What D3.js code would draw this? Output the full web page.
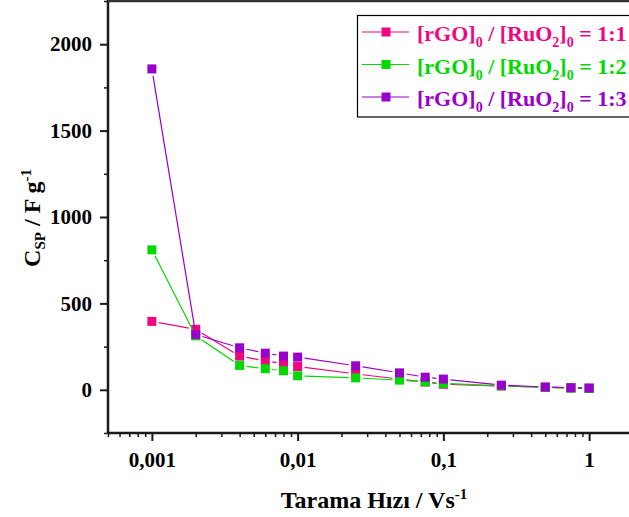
<!DOCTYPE html>
<html>
<head>
<meta charset="utf-8">
<script src="https://cdn.jsdelivr.net/npm/d3@7"></script>
<style>
html,body{margin:0;padding:0;background:#fff;overflow:hidden;}
svg{display:block;}
text{font-family:"Liberation Serif","Times New Roman",serif;font-weight:bold;}
</style>
</head>
<body>
<svg id="chart" width="629" height="517"></svg>
<script>
// ---- data ----
const scanRates = [0.001, 0.002, 0.004, 0.006, 0.008, 0.01, 0.025, 0.05, 0.075, 0.1, 0.25, 0.5, 0.75, 1];
const ratio11 = [396, 350, 195, 167, 152, 135, 92, 62, 45, 32, 22, 15, 11, 9];
const ratio12 = [810, 312, 141, 122, 110, 81, 69, 56, 46, 37, 23, 14, 10, 8];
const ratio13 = [1857, 320, 243, 212, 195, 189, 139, 98, 73, 62, 27, 16, 12, 10];
const seriesRatios = ["1:1", "1:2", "1:3"];
const seriesColors = ["#F0067F", "#00D900", "#9900CC"];
const xMajorTicks = [0.001, 0.01, 0.1, 1];
const xTickLabels = ["0,001", "0,01", "0,1", "1"];
const yMajorTicks = [0, 500, 1000, 1500, 2000];
const yMinorTicks = [-250, 250, 750, 1250, 1750, 2250];

(function () {
const series = [ratio11, ratio12, ratio13].map((vals, i) => ({
  ratio: seriesRatios[i], color: seriesColors[i],
  points: scanRates.map((x, j) => ({x, y: vals[j]}))
}));

const svg = d3.select("#chart");
const pLeft = 108, pTop = 1, pBottom = 433, pRight = 633;

const x = d3.scaleLog().domain([0.0005, 2]).range([pLeft, pRight]);
const y = d3.scaleLinear().domain([-250, 2250]).range([pBottom, pTop]);

// minor ticks for log axis
const xMinor = [];
[0.0001, 0.001, 0.01, 0.1, 1].forEach(d => {
  for (let k = 2; k <= 9; k++) {
    const v = +(d * k).toPrecision(3);
    if (v >= 0.0005 && v <= 2) xMinor.push(v);
  }
});

const axisColor = "#1a1a1a";

svg.append("g").attr("transform", `translate(0,${pBottom})`)
  .call(d3.axisBottom(x).tickValues(xMinor).tickSize(4).tickFormat(""))
  .call(g => g.select(".domain").remove())
  .call(g => g.selectAll("line").attr("stroke", axisColor).attr("stroke-width", 1.5));

const xg = svg.append("g").attr("transform", `translate(0,${pBottom})`)
  .call(d3.axisBottom(x).tickValues(xMajorTicks).tickSize(8).tickPadding(11)
    .tickFormat((d, i) => xTickLabels[i]))
  .call(g => g.select(".domain").remove())
  .call(g => g.selectAll("line").attr("stroke", axisColor).attr("stroke-width", 2));
xg.selectAll("text").attr("fill", "#000").style("font-size", "21px")
  .style("font-family", '"Liberation Serif", serif').style("font-weight", "bold");

svg.append("g").attr("transform", `translate(${pLeft},0)`)
  .call(d3.axisLeft(y).tickValues(yMinorTicks).tickSize(4).tickFormat(""))
  .call(g => g.select(".domain").remove())
  .call(g => g.selectAll("line").attr("stroke", axisColor).attr("stroke-width", 1.5));

const yg = svg.append("g").attr("transform", `translate(${pLeft},0)`)
  .call(d3.axisLeft(y).tickValues(yMajorTicks).tickSize(8).tickPadding(8).tickFormat(d3.format("d")))
  .call(g => g.select(".domain").remove())
  .call(g => g.selectAll("line").attr("stroke", axisColor).attr("stroke-width", 2));
yg.selectAll("text").attr("fill", "#000").style("font-size", "21px")
  .style("font-family", '"Liberation Serif", serif').style("font-weight", "bold");

// frame lines
svg.append("line").attr("x1", pLeft).attr("x2", 700).attr("y1", pBottom).attr("y2", pBottom)
  .attr("stroke", axisColor).attr("stroke-width", 2.5);
svg.append("line").attr("x1", pLeft).attr("x2", pLeft).attr("y1", pTop - 1).attr("y2", pBottom + 1)
  .attr("stroke", axisColor).attr("stroke-width", 2.5);
svg.append("line").attr("x1", pLeft).attr("x2", 700).attr("y1", pTop).attr("y2", pTop)
  .attr("stroke", "#333").attr("stroke-width", 2.5);

// series: lines with gaps around markers, then markers
const gap = 7, ms = 9;
series.forEach(s => {
  const g = svg.append("g");
  const pts = s.points.map(p => [x(p.x), y(p.y)]);
  for (let i = 0; i < pts.length - 1; i++) {
    const [x1, y1] = pts[i], [x2, y2] = pts[i + 1];
    const dx = x2 - x1, dy = y2 - y1, L = Math.hypot(dx, dy);
    if (L <= 2 * gap) continue;
    const ux = dx / L, uy = dy / L;
    g.append("line")
      .attr("x1", x1 + ux * gap).attr("y1", y1 + uy * gap)
      .attr("x2", x2 - ux * gap).attr("y2", y2 - uy * gap)
      .attr("stroke", s.color).attr("stroke-width", 1.2);
  }
  g.selectAll("rect").data(s.points).join("rect")
    .attr("x", d => x(d.x) - ms / 2).attr("y", d => y(d.y) - ms / 2)
    .attr("width", ms).attr("height", ms).attr("fill", s.color);
});

// legend
const lg = svg.append("g");
lg.append("rect").attr("x", 357.5).attr("y", 15.5).attr("width", 300).attr("height", 101.5)
  .attr("fill", "#fff").attr("stroke", "#000").attr("stroke-width", 1.2);
series.forEach((s, i) => {
  const cy = 32 + i * 32.5;
  lg.append("line").attr("x1", 362).attr("x2", 409).attr("y1", cy).attr("y2", cy)
    .attr("stroke", s.color).attr("stroke-width", 1.2);
  lg.append("rect").attr("x", 386 - 4.5).attr("y", cy - 4.5).attr("width", 9).attr("height", 9)
    .attr("fill", s.color);
  const t = lg.append("text").attr("x", 417).attr("y", cy + 9).attr("fill", s.color)
    .style("font-size", "22px");
  t.append("tspan").text("[rGO]");
  t.append("tspan").attr("dy", 6).style("font-size", "14px").text("0");
  t.append("tspan").attr("dy", -6).text(" / [RuO");
  t.append("tspan").attr("dy", 6).style("font-size", "14px").text("2");
  t.append("tspan").attr("dy", -6).text("]");
  t.append("tspan").attr("dy", 6).style("font-size", "14px").text("0");
  t.append("tspan").attr("dy", -6).text(" = " + s.ratio);
});

// axis titles
const xt = svg.append("text").attr("x", 374).attr("y", 508).attr("text-anchor", "middle")
  .attr("fill", "#000").style("font-size", "24px");
xt.append("tspan").text("Tarama Hızı / Vs");
xt.append("tspan").attr("dy", -9).style("font-size", "15px").text("-1");

const yt = svg.append("text").attr("transform", "translate(40,218) rotate(-90)")
  .attr("text-anchor", "middle").attr("fill", "#000").style("font-size", "24px");
yt.append("tspan").text("C");
yt.append("tspan").attr("dy", 5).style("font-size", "15px").text("SP");
yt.append("tspan").attr("dy", -5).text(" / F g");
yt.append("tspan").attr("dy", -9).style("font-size", "15px").text("-1");
})();
</script>
</body>
</html>
